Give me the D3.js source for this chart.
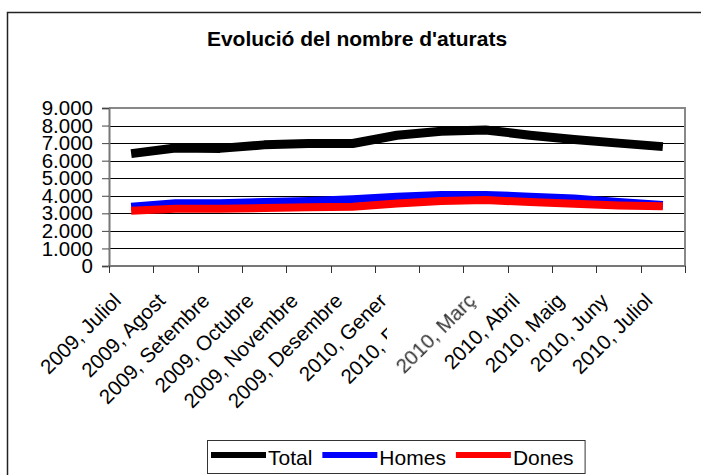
<!DOCTYPE html>
<html>
<head>
<meta charset="utf-8">
<script src="https://cdn.jsdelivr.net/npm/d3@7"></script>
<style>
  body { margin: 0; background: white; }
  text { font-family: Arial, "Liberation Sans", sans-serif; }
</style>
</head>
<body>
<script>
var months = ["2009, Juliol", "2009, Agost", "2009, Setembre", "2009, Octubre", "2009, Novembre",
              "2009, Desembre", "2010, Gener", "2010, Febrer", "2010, Març", "2010, Abril",
              "2010, Maig", "2010, Juny", "2010, Juliol"];
var total = [6400, 6720, 6700, 6900, 6980, 6980, 7450, 7680, 7750, 7450, 7200, 7000, 6800];
var homes = [3380, 3580, 3580, 3650, 3700, 3800, 3950, 4050, 4050, 3950, 3850, 3650, 3480];
var dones = [3150, 3260, 3260, 3300, 3350, 3380, 3560, 3700, 3760, 3640, 3550, 3450, 3400];
var yTicks = [0, 1000, 2000, 3000, 4000, 5000, 6000, 7000, 8000, 9000];
var seriesNames = ["Total", "Homes", "Dones"];
var seriesColors = ["#000000", "#0000ff", "#ff0000"];

var width = 701,
    height = 475;

var svg = d3.select("body").append("svg")
	.attr("width", width)
	.attr("height", height);

var ca = d3.formatLocale({decimal: ",", thousands: ".", grouping: [3], currency: ["", " €"]});
var fmt = ca.format(",d");

var x = d3.scaleBand().domain(months).range([109, 685]);
var y = d3.scaleLinear().domain([0, 9000]).range([266, 108]);

// outer frame of the chart (right / bottom fall outside the picture)
svg.append("rect")
	.attr("x", 7.5).attr("y", 12.5)
	.attr("width", 760).attr("height", 520)
	.attr("fill", "white")
	.attr("stroke", "#222")
	.attr("stroke-width", 1.5);

svg.append("text") //title
	.attr("x", 357)
	.attr("y", 46)
	.attr("text-anchor", "middle")
	.style("font-size", "21px")
	.style("font-weight", "bold")
	.text("Evolució del nombre d'aturats");

// gridlines
svg.selectAll("line.grid").data(yTicks.filter(function(d){ return d > 0; }))
	.enter().append("line")
	.attr("class", "grid")
	.attr("x1", 109).attr("x2", 685)
	.attr("y1", function(d){ return Math.round(y(d)) + 0.5; })
	.attr("y2", function(d){ return Math.round(y(d)) + 0.5; })
	.attr("stroke", "black")
	.attr("stroke-width", 1);

// plot area border (top / right)
svg.append("path")
	.attr("d", "M109," + y(9000) + "H685V" + y(0))
	.attr("fill", "none")
	.attr("stroke", "#888")
	.attr("stroke-width", 2);

// y axis
var yAxis = d3.axisLeft(y).tickValues(yTicks).tickFormat(fmt).tickSize(7).tickPadding(9);
var gy = svg.append("g").attr("transform", "translate(109,0)").call(yAxis);
gy.select(".domain").attr("stroke", "#777").attr("stroke-width", 2);
gy.selectAll(".tick line").attr("stroke", "#444");
gy.selectAll(".tick text")
	.style("font-size", "20.5px")
	.attr("fill", "black")
	.attr("font-family", null);

// x axis, ticks between categories
svg.append("line")
	.attr("x1", 108).attr("x2", 686)
	.attr("y1", y(0)).attr("y2", y(0))
	.attr("stroke", "#777").attr("stroke-width", 2);
var bounds = months.map(function(d){ return x(d); }).concat([x.range()[1]]);
svg.selectAll("line.xtick").data(bounds).enter().append("line")
	.attr("class", "xtick")
	.attr("x1", function(d){ return Math.round(d) + 0.5; })
	.attr("x2", function(d){ return Math.round(d) + 0.5; })
	.attr("y1", y(0)).attr("y2", y(0) + 7)
	.attr("stroke", "#333");

// clip for the partly hidden Febrer label (applied on an untransformed group)
var clipX = x("2010, Gener") + x.bandwidth() / 2 - 10;
svg.append("clipPath").attr("id", "febClip")
	.append("rect").attr("x", 0).attr("y", 0).attr("width", clipX).attr("height", height);
var blur = svg.append("filter").attr("id", "soft");
blur.append("feGaussianBlur").attr("stdDeviation", 0.5);

var labs = svg.selectAll("g.xlab").data(months).enter().append("g")
	.attr("class", "xlab")
	.attr("clip-path", function(d){ return d == "2010, Febrer" ? "url(#febClip)" : null; });

labs.append("text") //month labels
	.attr("text-anchor", "end")
	.attr("transform", function(d){
		return "translate(" + (x(d) + x.bandwidth() / 2 - 9) + ",302) rotate(-45)";
	})
	.attr("filter", function(d){ return d == "2010, Març" ? "url(#soft)" : null; })
	.style("font-size", "20.5px")
	.style("fill", function(d){ return d == "2010, Març" ? "#333" : "black"; })
	.text(function(d){ return d; });

// lines
var line = d3.line()
	.x(function(d, i){ return x(months[i]) + x.bandwidth() / 2; })
	.y(function(d){ return y(d); });

var series = [total, homes, dones];
var widths = [9, 8, 8];
series.forEach(function(s, k){
	svg.append("path")
		.attr("d", line(s))
		.attr("fill", "none")
		.attr("stroke", seriesColors[k])
		.attr("stroke-width", widths[k])
		.attr("stroke-linejoin", "round");
});

// legend
var legend = svg.append("g");
var lx = 211;
seriesNames.forEach(function(name, k){
	legend.append("line")
		.attr("x1", lx).attr("x2", lx + 55)
		.attr("y1", 455).attr("y2", 455)
		.attr("stroke", seriesColors[k])
		.attr("stroke-width", 6);
	var t = legend.append("text")
		.attr("x", lx + 57)
		.attr("y", 465)
		.style("font-size", "21px")
		.text(name);
	lx = lx + 57 + t.node().getComputedTextLength() + 10;
});
legend.insert("rect", ":first-child")
	.attr("x", 207.5).attr("y", 440.5)
	.attr("width", lx - 207 + 1).attr("height", 33)
	.attr("fill", "white")
	.attr("stroke", "#333");
</script>
</body>
</html>
